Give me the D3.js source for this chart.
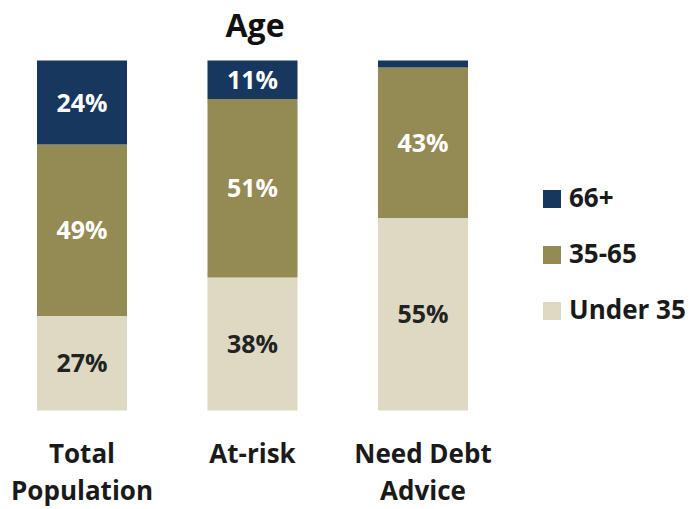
<!DOCTYPE html>
<html><head><meta charset="utf-8">
<script src="https://cdn.jsdelivr.net/npm/d3@7"></script>
<style>body{margin:0;background:#fff}svg{display:block}text{font-family:"Open Sans",sans-serif;font-weight:bold}</style>
</head><body>
<svg id="c" width="697" height="509"></svg>
<script>
const categories = ["Total Population", "At-risk", "Need Debt Advice"];
const categoryLines = [["Total", "Population"], ["At-risk"], ["Need Debt", "Advice"]];
const seriesNames = ["Under 35", "35-65", "66+"];
const under35 = [27, 38, 55];
const age35to65 = [49, 51, 43];
const age66plus = [24, 11, 2];
const colors = ["#DDD9C3", "#948A54", "#17375E"];
const labelColors = ["#222222", "#ffffff", "#ffffff"];
const showLabel = [[true, true, true], [true, true, true], [true, true, false]];

const svg = d3.select("#c");
const x = d3.scaleBand().domain(categories).range([37, 468]).paddingInner(0.472).paddingOuter(0);
const y = d3.scaleLinear().domain([0, 100]).range([410.5, 60.5]);

const rows = categories.map((c, i) => ({cat: c, "Under 35": under35[i], "35-65": age35to65[i], "66+": age66plus[i]}));
const stack = d3.stack().keys(seriesNames)(rows);

const g = svg.append("g");
stack.forEach((s, si) => {
  g.selectAll(null).data(s).enter().append("rect")
    .attr("x", d => x(d.data.cat))
    .attr("width", x.bandwidth())
    .attr("y", d => y(d[1]))
    .attr("height", d => y(d[0]) - y(d[1]))
    .attr("fill", colors[si]);
  g.selectAll(null).data(s.filter((d, i) => showLabel[i][si])).enter().append("text")
    .attr("x", d => x(d.data.cat) + x.bandwidth() / 2)
    .attr("y", d => (y(d[0]) + y(d[1])) / 2)
    .attr("dy", "0.36em")
    .attr("text-anchor", "middle")
    .attr("font-size", 25)
    .attr("fill", labelColors[si])
    .text(d => (d[1] - d[0]) + "%");
});

// title
svg.append("text").attr("x", 255).attr("y", 37).attr("text-anchor", "middle")
  .attr("font-size", 32).attr("fill", "#111").text("Age");

// category labels
categories.forEach((c, i) => {
  const t = svg.append("text").attr("text-anchor", "middle").attr("font-size", 26).attr("fill", "#1a1a1a");
  categoryLines[i].forEach((line, li) => {
    t.append("tspan").attr("x", x(c) + x.bandwidth() / 2).attr("y", 463 + li * 37).text(line);
  });
});

// legend
const legendOrder = ["66+", "35-65", "Under 35"];
const lg = svg.append("g");
legendOrder.forEach((name, i) => {
  const si = seriesNames.indexOf(name);
  lg.append("rect").attr("x", 543).attr("y", 190 + i * 56).attr("width", 18).attr("height", 18).attr("fill", colors[si]);
  lg.append("text").attr("x", 569).attr("y", 207 + i * 56).attr("font-size", 26).attr("fill", "#1a1a1a").text(name);
});
</script>
</body></html>
